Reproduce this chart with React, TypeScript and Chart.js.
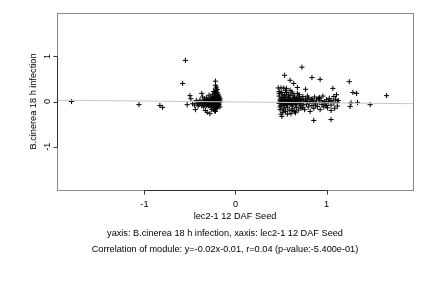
import React, { useEffect, useRef } from "react";
import { Chart, registerables } from "chart.js";

Chart.register(...registerables);

// Isolated points far from the two clusters
const outliers: [number, number][] = [
  [-1.80, 0.00], [-1.06, -0.07], [-0.83, -0.09], [-0.80, -0.13], [-0.55, 0.91], [-0.58, 0.40],
  [0.73, 0.76], [0.54, 0.58], [0.84, 0.53], [0.93, 0.49], [0.60, 0.47], [0.64, 0.40],
  [1.25, 0.44], [1.07, 0.29], [1.29, 0.20], [1.33, 0.18], [1.66, 0.13], [1.48, -0.07],
  [1.27, -0.03], [1.34, -0.02], [1.26, -0.11], [0.86, -0.42], [1.05, -0.40], [0.77, 0.27],
  [1.11, 0.15], [1.08, 0.11], [0.92, 0.09], [0.68, 0.31], [1.13, 0.02], [1.12, -0.10], [1.09, -0.15],
];

// Left cluster (negative x)
const leftCluster: [number, number][] = [
  [-0.53, -0.07], [-0.50, 0.13], [-0.49, 0.06], [-0.47, -0.05], [-0.45, -0.08], [-0.44, -0.18],
  [-0.43, 0.02], [-0.42, -0.04], [-0.41, -0.10], [-0.40, -0.06], [-0.39, 0.03], [-0.38, -0.02],
  [-0.37, 0.18], [-0.37, -0.09], [-0.36, 0.10], [-0.36, -0.04], [-0.35, -0.12], [-0.34, 0.05],
  [-0.34, -0.07], [-0.33, -0.20], [-0.33, 0.00], [-0.32, -0.03], [-0.32, 0.08], [-0.31, -0.24],
  [-0.31, -0.06], [-0.30, 0.02], [-0.30, -0.10], [-0.29, 0.14], [-0.29, -0.04], [-0.28, -0.27],
  [-0.28, 0.04], [-0.28, -0.08], [-0.27, 0.00], [-0.27, -0.13], [-0.27, 0.10], [-0.26, -0.05],
  [-0.26, 0.06], [-0.26, -0.18], [-0.25, 0.02], [-0.25, -0.09], [-0.25, 0.16], [-0.24, -0.02],
  [-0.24, 0.08], [-0.24, -0.14], [-0.24, 0.22], [-0.23, -0.06], [-0.23, 0.04], [-0.23, 0.12],
  [-0.23, -0.20], [-0.23, -0.01], [-0.22, 0.45], [-0.22, 0.36], [-0.22, 0.28], [-0.22, 0.18],
  [-0.22, 0.06], [-0.22, -0.04], [-0.22, -0.11], [-0.22, -0.22], [-0.21, 0.32], [-0.21, 0.24],
  [-0.21, 0.14], [-0.21, 0.02], [-0.21, -0.08], [-0.21, -0.16], [-0.20, 0.27], [-0.20, 0.20],
  [-0.20, 0.10], [-0.20, -0.02], [-0.20, -0.06], [-0.20, -0.13], [-0.19, 0.16], [-0.19, 0.08],
  [-0.19, 0.00], [-0.19, -0.05], [-0.19, -0.10], [-0.18, 0.12], [-0.18, 0.04], [-0.18, -0.03],
  [-0.18, -0.07], [-0.17, 0.06], [-0.17, -0.01], [-0.17, -0.12],
  [-0.30, -0.02], [-0.29, 0.01], [-0.28, -0.01], [-0.27, -0.03], [-0.26, 0.00], [-0.25, -0.04],
  [-0.24, 0.03], [-0.23, -0.08], [-0.22, 0.01], [-0.21, -0.03], [-0.20, 0.05], [-0.19, -0.08],
  [-0.18, 0.00], [-0.26, -0.11], [-0.25, 0.07], [-0.24, -0.06], [-0.23, 0.09], [-0.21, 0.07],
  [-0.20, -0.10], [-0.19, 0.03], [-0.31, 0.05], [-0.32, -0.09], [-0.35, 0.01], [-0.29, -0.07],
  [-0.27, 0.05], [-0.22, -0.07], [-0.18, 0.09], [-0.17, 0.03], [-0.21, 0.20], [-0.20, 0.14],
];

// Right cluster (positive x)
const rightCluster: [number, number][] = [
  [0.47, 0.30], [0.50, 0.30], [0.53, 0.30], [0.56, 0.29], [0.48, 0.22], [0.51, 0.20],
  [0.55, 0.24], [0.58, 0.16], [0.62, 0.21], [0.65, 0.12], [0.68, 0.18], [0.70, 0.10],
  [0.72, 0.05], [0.48, 0.12], [0.49, 0.05], [0.50, -0.02], [0.50, -0.10], [0.49, -0.18],
  [0.50, -0.28], [0.51, -0.33], [0.52, 0.08], [0.53, -0.05], [0.53, -0.15], [0.54, 0.02],
  [0.55, -0.22], [0.55, 0.10], [0.56, -0.08], [0.57, 0.04], [0.57, -0.13], [0.58, -0.02],
  [0.59, 0.07], [0.59, -0.19], [0.60, -0.06], [0.60, 0.13], [0.61, 0.00], [0.61, -0.27],
  [0.62, -0.10], [0.63, 0.05], [0.63, -0.16], [0.64, -0.03], [0.64, 0.09], [0.65, -0.22],
  [0.66, 0.02], [0.66, -0.07], [0.67, -0.13], [0.67, 0.06], [0.68, -0.01], [0.69, -0.19],
  [0.69, 0.08], [0.70, -0.05], [0.71, -0.10], [0.71, 0.02], [0.72, -0.15], [0.73, 0.03],
  [0.74, -0.08], [0.74, 0.11], [0.75, -0.02], [0.76, -0.18], [0.77, 0.06], [0.78, -0.06],
  [0.79, 0.00], [0.80, -0.12], [0.80, 0.08], [0.81, -0.03], [0.82, -0.22], [0.83, 0.04],
  [0.84, -0.09], [0.85, 0.01], [0.86, -0.15], [0.87, 0.10], [0.88, -0.04], [0.89, 0.03],
  [0.90, -0.11], [0.91, 0.06], [0.92, -0.02], [0.93, -0.18], [0.94, 0.02], [0.95, -0.07],
  [0.96, 0.12], [0.97, -0.12], [0.98, 0.00], [0.99, -0.05], [1.00, 0.04], [1.01, -0.14],
  [1.02, -0.01], [1.03, 0.07], [1.05, -0.08], [1.06, 0.02], [1.08, -0.03], [1.10, 0.05],
  [1.12, -0.02], [1.05, -0.20],
  [0.48, -0.04], [0.49, 0.01], [0.50, 0.03], [0.51, -0.06], [0.52, -0.01], [0.53, 0.04],
  [0.54, -0.09], [0.55, -0.03], [0.56, 0.01], [0.57, -0.05], [0.58, 0.03], [0.59, -0.01],
  [0.60, 0.02], [0.61, -0.04], [0.62, 0.01], [0.63, -0.06], [0.64, 0.00], [0.65, -0.02],
  [0.66, 0.04], [0.67, -0.03], [0.68, 0.02], [0.70, -0.01], [0.72, -0.04], [0.75, 0.03],
  [0.78, -0.01], [0.82, 0.00], [0.86, -0.02], [0.48, 0.18], [0.52, 0.15], [0.56, 0.20],
  [0.60, 0.25], [0.63, 0.17], [0.52, -0.24], [0.57, -0.28], [0.62, -0.20], [0.66, -0.25],
  [0.58, 0.10], [0.54, 0.14], [0.51, 0.09], [0.49, -0.12], [0.53, -0.19], [0.70, 0.15],
  [0.74, -0.13], [0.79, 0.12], [0.84, 0.06], [0.88, -0.08], [0.92, 0.07], [0.96, -0.03],
  [1.00, -0.09], [1.04, 0.01],
];

const xRange = [-1.96, 1.95];
const yRange = [-1.96, 1.96];
const xTicks = [-1, 0, 1];
const yTicks = [-1, 0, 1];
const fitSlope = -0.02;
const fitIntercept = -0.01;

const xTitle = "lec2-1 12 DAF Seed";
const yTitle = "B.cinerea 18 h infection";
const subtitle1 = "yaxis: B.cinerea 18 h infection, xaxis: lec2-1 12 DAF Seed";
const subtitle2 = "Correlation of module: y=-0.02x-0.01, r=0.04 (p-value:-5.400e-01)";

const FONT = "9.2px 'Liberation Sans', Arial, sans-serif";

const axesPlugin = {
  id: "rAxes",
  afterDraw(chart: any) {
    const { ctx, chartArea: a, scales } = chart;
    const xs = scales.x;
    const ys = scales.y;
    ctx.save();
    // frame
    ctx.strokeStyle = "#8a8a8a";
    ctx.lineWidth = 1;
    ctx.strokeRect(Math.round(a.left) + 0.5, Math.round(a.top) + 0.5, Math.round(a.right - a.left), Math.round(a.bottom - a.top));

    ctx.strokeStyle = "#333";
    ctx.fillStyle = "#000";
    ctx.font = FONT;
    // bottom axis
    const by = Math.round(a.bottom) + 0.5;
    const x0 = Math.round(xs.getPixelForValue(xTicks[0])) + 0.5;
    const x1 = Math.round(xs.getPixelForValue(xTicks[xTicks.length - 1])) + 0.5;
    ctx.beginPath();
    ctx.moveTo(x0, by);
    ctx.lineTo(x1, by);
    xTicks.forEach((t) => {
      const px = Math.round(xs.getPixelForValue(t)) + 0.5;
      ctx.moveTo(px, by);
      ctx.lineTo(px, by + 4);
    });
    ctx.stroke();
    ctx.textAlign = "center";
    ctx.textBaseline = "middle";
    xTicks.forEach((t) => {
      const px = xs.getPixelForValue(t);
      ctx.fillText(String(t), px, a.bottom + 14);
    });
    ctx.fillText(xTitle, (a.left + a.right) / 2, a.bottom + 26);
    const subCenter = (a.left + a.right) / 2 - 10;
    ctx.fillText(subtitle1, subCenter, a.bottom + 43);
    ctx.fillText(subtitle2, subCenter, a.bottom + 59);

    // left axis
    const lx = Math.round(a.left) + 0.5;
    const y0 = Math.round(ys.getPixelForValue(yTicks[0])) + 0.5;
    const y1 = Math.round(ys.getPixelForValue(yTicks[yTicks.length - 1])) + 0.5;
    ctx.beginPath();
    ctx.moveTo(lx, y0);
    ctx.lineTo(lx, y1);
    yTicks.forEach((t) => {
      const py = Math.round(ys.getPixelForValue(t)) + 0.5;
      ctx.moveTo(lx, py);
      ctx.lineTo(lx - 4, py);
    });
    ctx.stroke();
    yTicks.forEach((t) => {
      const py = ys.getPixelForValue(t);
      ctx.save();
      ctx.translate(a.left - 10, py);
      ctx.rotate(-Math.PI / 2);
      ctx.fillText(String(t), 0, 0);
      ctx.restore();
    });
    ctx.save();
    ctx.translate(a.left - 24, (a.top + a.bottom) / 2);
    ctx.rotate(-Math.PI / 2);
    ctx.fillText(yTitle, 0, 0);
    ctx.restore();
    ctx.restore();
  },
};

export default function App() {
  const ref = useRef<HTMLCanvasElement>(null);
  useEffect(() => {
    if (!ref.current) return;
    const pts = [...outliers, ...leftCluster, ...rightCluster].map(([x, y]) => ({ x, y }));
    const fit = xRange.map((x) => ({ x, y: fitSlope * x + fitIntercept }));
    const chart = new Chart(ref.current, {
      type: "scatter",
      data: {
        datasets: [
          {
            type: "line",
            data: fit,
            borderColor: "#c8c8c8",
            borderWidth: 1,
            pointRadius: 0,
            order: 0,
          } as any,
          {
            data: pts,
            pointStyle: "cross",
            pointRadius: 2.6,
            borderColor: "#000",
            backgroundColor: "#000",
            borderWidth: 1,
            order: 1,
          },
        ],
      },
      options: {
        animation: false,
        responsive: false,
        events: [],
        layout: { padding: { left: 57, right: 19, top: 13, bottom: 98 } },
        plugins: { legend: { display: false }, tooltip: { enabled: false } },
        scales: {
          x: { type: "linear", min: xRange[0], max: xRange[1], display: false },
          y: { type: "linear", min: yRange[0], max: yRange[1], display: false },
        },
      },
      plugins: [axesPlugin],
    });
    return () => chart.destroy();
  }, []);
  return (
    <div style={{ position: "absolute", left: 0, top: 0, width: 432, height: 288, background: "#fff" }}>
      <canvas ref={ref} width={432} height={288} />
    </div>
  );
}
